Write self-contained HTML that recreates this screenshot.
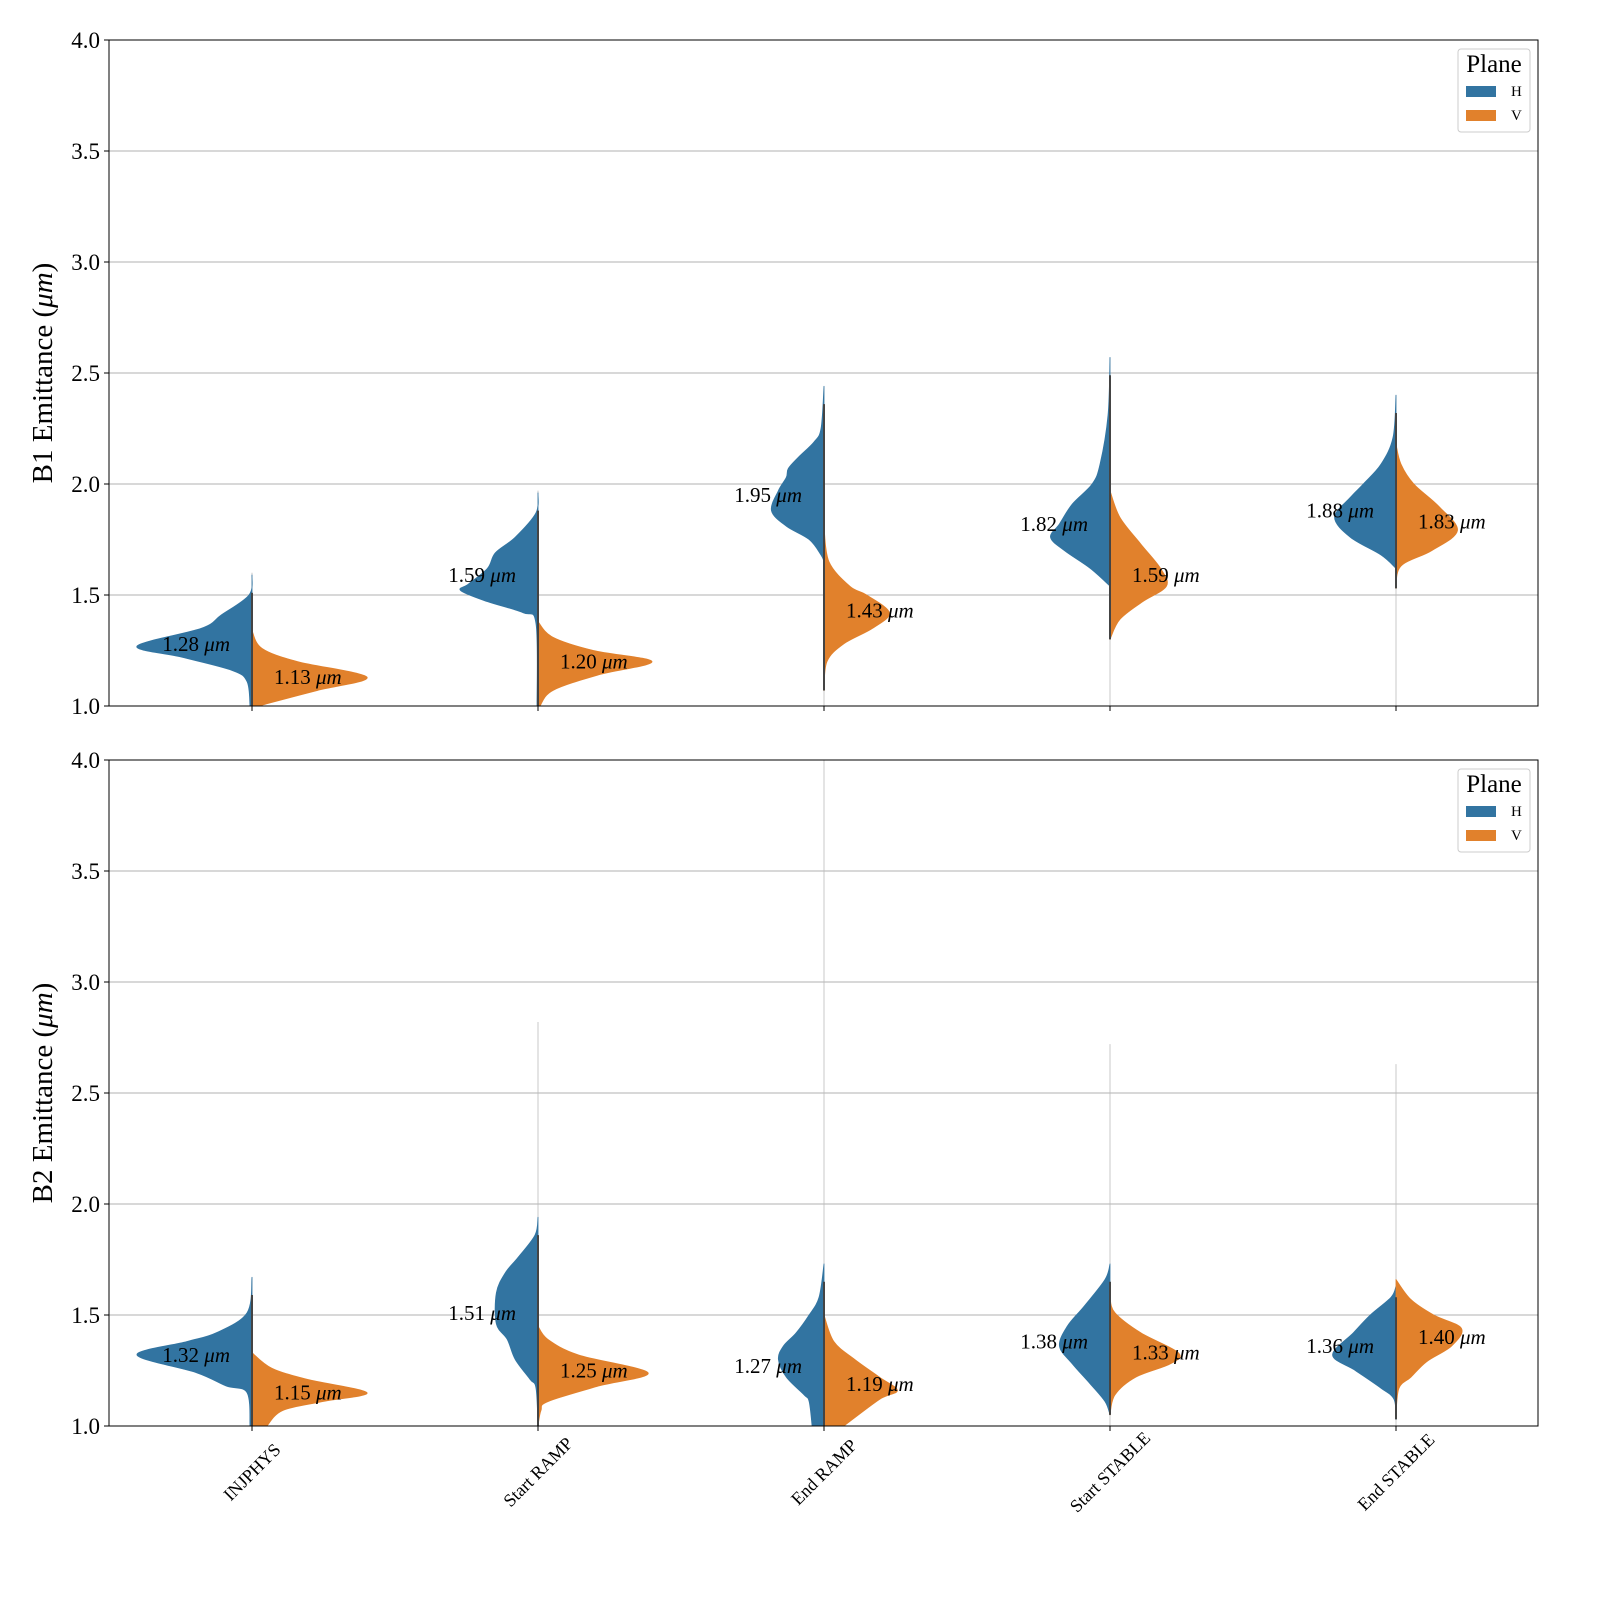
<!DOCTYPE html>
<html><head><meta charset="utf-8"><style>
html,body{margin:0;padding:0;background:#fff;width:1600px;height:1600px;overflow:hidden}
svg{display:block;position:absolute;left:0;top:0}
svg text{font-family:"Liberation Serif","DejaVu Serif",serif}
</style></head><body>
<svg id="chart" width="1600" height="1600" viewBox="0 0 1600 1600" xmlns="http://www.w3.org/2000/svg"></svg>
<script>
const categories = ["INJPHYS","Start RAMP","End RAMP","Start STABLE","End STABLE"];
const yTicks = [1.0,1.5,2.0,2.5,3.0,3.5,4.0];
const panelLabels = ["B1 Emittance (","B2 Emittance ("];
// density profiles: [emittance, relative density (0-116 scale)]
const b1H = [
 [[1.0,2],[1.11,5],[1.16,20],[1.22,71],[1.27,116],[1.35,51],[1.41,31],[1.50,3],[1.59,0]],
 [[1.0,1],[1.37,2],[1.42,15],[1.47,51],[1.52,78],[1.55,70],[1.62,51],[1.69,43],[1.76,23],[1.87,2],[1.96,0]],
 [[1.65,0],[1.68,3],[1.75,15],[1.81,38],[1.88,53],[1.97,46],[2.03,38],[2.07,36],[2.12,26],[2.19,10],[2.25,3],[2.44,0]],
 [[1.54,0],[1.62,20],[1.70,46],[1.76,60],[1.82,51],[1.91,38],[2.0,18],[2.09,10],[2.31,2],[2.57,0]],
 [[1.62,0],[1.68,15],[1.76,46],[1.85,62],[1.94,46],[2.0,33],[2.09,15],[2.21,3],[2.40,0]]
];
const b1V = [
 [[1.0,10],[1.01,15],[1.07,66],[1.13,116],[1.20,46],[1.26,10],[1.34,0]],
 [[1.0,2],[1.07,15],[1.14,61],[1.20,115],[1.25,56],[1.31,15],[1.38,0]],
 [[1.07,0],[1.20,3],[1.28,20],[1.35,49],[1.42,66],[1.50,43],[1.54,26],[1.65,5],[1.81,0]],
 [[1.30,0],[1.39,10],[1.47,33],[1.54,57],[1.62,51],[1.73,31],[1.85,10],[1.97,0]],
 [[1.53,0],[1.63,5],[1.70,36],[1.79,62],[1.90,43],[2.0,18],[2.09,5],[2.18,0]]
];
const b2H = [
 [[1.0,2],[1.15,5],[1.18,26],[1.24,56],[1.32,116],[1.38,66],[1.42,36],[1.51,5],[1.67,0]],
 [[1.0,0],[1.17,2],[1.21,8],[1.30,23],[1.39,31],[1.46,42],[1.60,42],[1.69,33],[1.76,20],[1.86,3],[1.94,0]],
 [[1.0,12],[1.11,15],[1.14,20],[1.22,38],[1.30,46],[1.36,41],[1.42,28],[1.50,15],[1.58,5],[1.73,0]],
 [[1.05,0],[1.11,5],[1.19,20],[1.28,38],[1.36,51],[1.45,43],[1.54,26],[1.66,5],[1.73,0]],
 [[1.03,0],[1.12,2],[1.17,15],[1.25,41],[1.32,64],[1.42,43],[1.50,26],[1.58,5],[1.63,0]]
];
const b2V = [
 [[1.0,15],[1.07,31],[1.11,71],[1.15,116],[1.21,56],[1.26,20],[1.33,0]],
 [[1.0,0],[1.07,3],[1.11,10],[1.18,61],[1.24,111],[1.32,41],[1.39,10],[1.45,0]],
 [[1.0,20],[1.12,56],[1.16,74],[1.22,56],[1.30,31],[1.38,10],[1.50,0]],
 [[1.05,0],[1.14,5],[1.22,26],[1.28,61],[1.33,69],[1.42,31],[1.51,5],[1.58,0]],
 [[1.05,0],[1.17,3],[1.22,15],[1.29,31],[1.36,56],[1.44,66],[1.50,38],[1.57,15],[1.66,0]]
];
const b1Max = [1.60,1.97,2.44,2.57,2.40];
const b2Max = [1.67,2.82,4.0,2.72,2.63];
const b1MedH = [1.28,1.59,1.95,1.82,1.88];
const b1MedV = [1.13,1.20,1.43,1.59,1.83];
const b2MedH = [1.32,1.51,1.27,1.38,1.36];
const b2MedV = [1.15,1.25,1.19,1.33,1.40];

const NS="http://www.w3.org/2000/svg";
const svg=document.getElementById('chart');
const X0=109,X1=1538,STEP=286;
const panels=[{top:40,bot:706,H:b1H,V:b1V,mx:b1Max,mh:b1MedH,mv:b1MedV,lab:panelLabels[0],n:'b1'},
              {top:760,bot:1426,H:b2H,V:b2V,mx:b2Max,mh:b2MedH,mv:b2MedV,lab:panelLabels[1],n:'b2'}];
function mk(tag,attrs,parent){const e=document.createElementNS(NS,tag);for(const k in attrs)e.setAttribute(k,attrs[k]);(parent||svg).appendChild(e);return e;}
const xPos=i=>X0+143+i*STEP;
const wScale=d=>d*(115/116);
function smoothPath(pts){
  let d='M'+pts[0][0]+','+pts[0][1];
  for(let i=0;i<pts.length-1;i++){
    const p0=pts[Math.max(0,i-1)],p1=pts[i],p2=pts[i+1],p3=pts[Math.min(pts.length-1,i+2)];
    const c1=[p1[0]+(p2[0]-p0[0])/6,p1[1]+(p2[1]-p0[1])/6];
    const c2=[p2[0]-(p3[0]-p1[0])/6,p2[1]-(p3[1]-p1[1])/6];
    d+=' C'+c1[0]+','+c1[1]+' '+c2[0]+','+c2[1]+' '+p2[0]+','+p2[1];
  }
  return d;
}
panels.forEach((p,pi)=>{
  const yS=v=>p.bot-(v-1.0)/3.0*(p.bot-p.top);
  const g=mk('g',{});
  
  
  const clipId='clip'+pi;
  const cp=mk('clipPath',{id:clipId},g);
  mk('rect',{x:X0,y:p.top,width:X1-X0,height:p.bot-p.top},cp);
  yTicks.forEach(t=>{
    const y=yS(t);
    const gl=mk('line',{x1:X0,x2:X1,y1:y,y2:y,stroke:'#b0b0b0','stroke-width':1},g);
    
    
    mk('line',{x1:X0-5,x2:X0,y1:y,y2:y,stroke:'#000','stroke-width':1},g);
    const tl=mk('text',{x:X0-9,y:y+8,'text-anchor':'end','font-size':23},g);
    tl.textContent=t.toFixed(1);
    
    
  });
  const vg=mk('g',{'clip-path':'url(#'+clipId+')'},g);
  categories.forEach((c,i)=>{
    const cx=xPos(i);
    mk('line',{x1:cx,x2:cx,y1:p.bot,y2:p.bot+5,stroke:'#000','stroke-width':1},g);
    const sp=mk('line',{x1:cx,x2:cx,y1:yS(p.mx[i]),y2:p.bot,stroke:'#bbb','stroke-width':0.8},vg);
    
    
    [['H',p.H[i],-1,'#3274a1'],['V',p.V[i],1,'#e1812c']].forEach(([nm,prof,dir,col])=>{
      const pts=prof.map(pt=>[cx+dir*wScale(pt[1]),yS(pt[0])]);
      let d=smoothPath(pts);
      d+=' L'+cx+','+yS(prof[prof.length-1][0])+' L'+cx+','+yS(prof[0][0])+' Z';
      const path=mk('path',{d:d,fill:col,stroke:col,'stroke-width':0.8,'stroke-linejoin':'round'},vg);
      
      
    });
    const lo=Math.min(p.H[i][0][0],p.V[i][0][0]);
    const hi=Math.max(p.H[i][p.H[i].length-1][0],p.V[i][p.V[i].length-1][0]);
    const st=mk('line',{x1:cx,x2:cx,y1:yS(lo),y2:yS(hi-0.08),stroke:'#444','stroke-width':2},vg);
    
    
    const th=mk('text',{x:cx-22,y:yS(p.mh[i])+7,'text-anchor':'end','font-size':21},g);
    th.innerHTML=p.mh[i].toFixed(2)+' <tspan font-style="italic">μm</tspan>';
    
    
    const tv=mk('text',{x:cx+22,y:yS(p.mv[i])+7,'text-anchor':'start','font-size':21},g);
    tv.innerHTML=p.mv[i].toFixed(2)+' <tspan font-style="italic">μm</tspan>';
    
    
    if(pi===1){
      const xl=mk('text',{x:cx,y:1478,'text-anchor':'middle','font-size':18,transform:'rotate(-45 '+cx+' 1472)'},g);
      xl.textContent=c;
      
      
    }
  });
  mk('rect',{x:X0,y:p.top,width:X1-X0,height:p.bot-p.top,fill:'none',stroke:'#000','stroke-width':1},g);
  const midY=(p.top+p.bot)/2;
  const yl=mk('text',{x:52,y:midY,'text-anchor':'middle','font-size':29,transform:'rotate(-90 52 '+midY+')'},g);
  yl.innerHTML=p.lab+'<tspan font-style="italic">μm</tspan>)';
  
  
  const o=p.top-40;
  const lg=mk('g',{},g);
  
  
  mk('rect',{x:1458,y:o+49,width:72,height:83,rx:3,fill:'#fff','fill-opacity':0.8,stroke:'#ccc'},lg);
  const lt=mk('text',{x:1494,y:o+72,'text-anchor':'middle','font-size':25},lg);
  lt.textContent='Plane';
  mk('rect',{x:1466,y:o+86,width:30,height:11,fill:'#3274a1'},lg);
  mk('rect',{x:1466,y:o+110,width:30,height:11,fill:'#e1812c'},lg);
  const h=mk('text',{x:1511,y:o+96,'font-size':15},lg);h.textContent='H';
  const v=mk('text',{x:1511,y:o+120,'font-size':15},lg);v.textContent='V';
});
</script>
</body></html>
